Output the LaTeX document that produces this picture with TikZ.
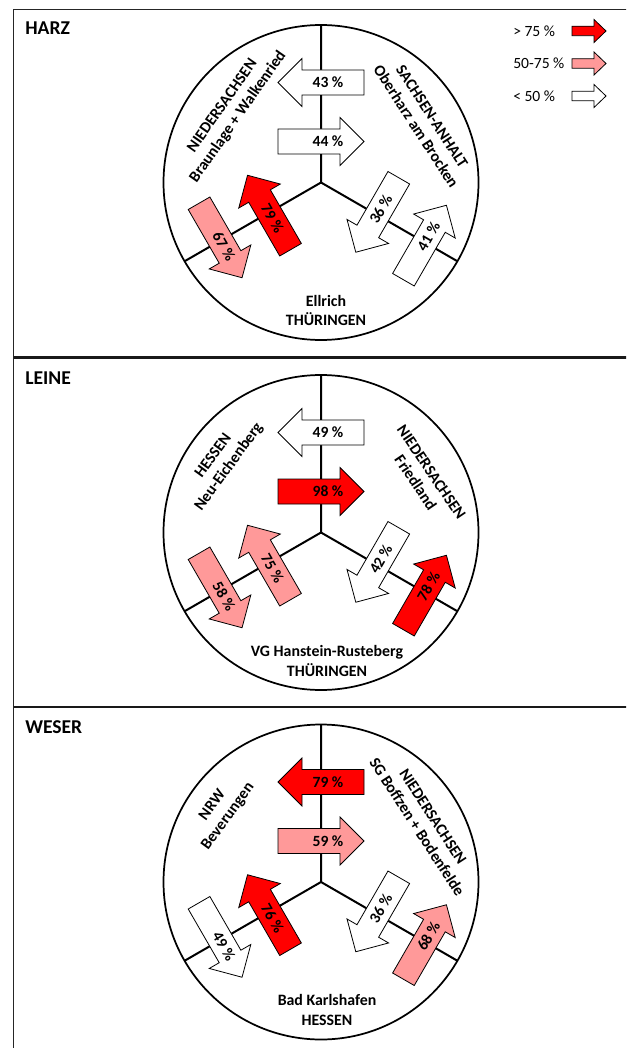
\documentclass[tikz,border=0pt]{standalone}
\usepackage{fontspec}
\setmainfont{Carlito}
\usetikzlibrary{calc}

\definecolor{highflow}{HTML}{FF0000}
\definecolor{midflow}{HTML}{FF9999}
\definecolor{lowflow}{HTML}{FFFFFF}

% block arrow: name, centre, polar offset, direction, fill, text, text angle
\newcommand{\flowarrow}[7]{%
    \path (#2) ++(#3) coordinate (#1-mid);
    \begin{scope}[shift={(#1-mid)}, rotate=#4]
        \draw[flowline, fill=#5] (-43,-12.5) -- (19,-12.5) -- (19,-24) -- (43,0)
            -- (19,24) -- (19,12.5) -- (-43,12.5) -- cycle;
    \end{scope}
    \node[pct, rotate=#7] (#1) at ([shift={(#7:7)}]#1-mid) {#6};
}

\begin{document}
\begin{tikzpicture}[
    x=0.75pt, y=0.75pt,
    frame/.style={draw=black!85, line width=1.1pt},
    seam/.style={black!90, line width=2pt},
    ring/.style={black, line width=1.3pt},
    divider/.style={black, line width=1.5pt},
    flowline/.style={black, line width=0.6pt, line join=miter},
    pct/.style={font=\fontsize{11.7}{14}\selectfont\bfseries, inner sep=0pt},
    region/.style={font=\fontsize{11.9}{14.3}\selectfont\bfseries, align=center, inner sep=0pt},
    title/.style={font=\fontsize{14.7}{17}\selectfont\bfseries, anchor=west, inner sep=0pt},
    key/.style={font=\fontsize{11.7}{14}\selectfont, anchor=west, inner sep=0pt}
]
    \useasboundingbox (0,0) rectangle (626,-1048);
    \clip (0,0) rectangle (626,-1048);

    % 1. Rahmen der drei Felder
    \draw[frame] (13.5,-9.5) rectangle (640,-1060);
    \draw[seam] (13.5,-357.5) -- (640,-357.5);
    \draw[seam] (13.5,-707) -- (640,-707);

    \coordinate (harz) at (321,-182.5);
    \coordinate (leine) at (321,-532.5);
    \coordinate (weser) at (321,-882);

    % 2. Kreis mit Y-Teilung
    \foreach \c in {harz,leine,weser} {
        \draw[divider] (\c) -- ++(90:157) (\c) -- ++(210:157) (\c) -- ++(330:157);
        \draw[ring] (\c) circle (157.5);
    }

    % 3. Titel
    \node[title] (harz-title) at (25,-28.3) {HARZ};
    \node[title] (leine-title) at (25,-378.3) {LEINE};
    \node[title] (weser-title) at (25,-726.7) {WESER};

    % 4. Legende
    \foreach \yy/\fl/\txt [count=\i] in {31/highflow/{> 75 \%}, 63.5/midflow/{50-75 \%}, 96/lowflow/{< 50 \%}} {
        \node[key] (key-\i) at (513,-\yy) {\txt};
        \begin{scope}[shift={(589,-\yy)}]
            \draw[flowline, fill=\fl] (-17,-4.75) -- (5,-4.75) -- (5,-11.5) -- (17,0)
                -- (5,11.5) -- (5,4.75) -- (-17,4.75) -- cycle;
        \end{scope}
    }

    % 5. Pfeile HARZ
    \flowarrow{harz-a}{harz}{90:100}{180}{lowflow}{43 \%}{0}
    \flowarrow{harz-b}{harz}{90:41}{0}{lowflow}{44 \%}{0}
    \flowarrow{harz-c}{harz}{210:60}{120}{highflow}{79 \%}{-60}
    \flowarrow{harz-d}{harz}{210:116}{300}{midflow}{67 \%}{-60}
    \flowarrow{harz-e}{harz}{330:65}{240}{lowflow}{36 \%}{60}
    \flowarrow{harz-f}{harz}{330:120}{60}{lowflow}{41 \%}{60}

    % Pfeile LEINE
    \flowarrow{leine-a}{leine}{90:100}{180}{lowflow}{49 \%}{0}
    \flowarrow{leine-b}{leine}{90:41}{0}{highflow}{98 \%}{0}
    \flowarrow{leine-c}{leine}{210:60}{120}{midflow}{75 \%}{-60}
    \flowarrow{leine-d}{leine}{210:116}{300}{midflow}{58 \%}{-60}
    \flowarrow{leine-e}{leine}{330:65}{240}{lowflow}{42 \%}{60}
    \flowarrow{leine-f}{leine}{330:120}{60}{highflow}{78 \%}{60}

    % Pfeile WESER
    \flowarrow{weser-a}{weser}{90:100}{180}{highflow}{79 \%}{0}
    \flowarrow{weser-b}{weser}{90:41}{0}{midflow}{59 \%}{0}
    \flowarrow{weser-c}{weser}{210:60}{120}{highflow}{76 \%}{-60}
    \flowarrow{weser-d}{weser}{210:116}{300}{lowflow}{49 \%}{-60}
    \flowarrow{weser-e}{weser}{330:65}{240}{lowflow}{36 \%}{60}
    \flowarrow{weser-f}{weser}{330:120}{60}{midflow}{68 \%}{60}

    % 6. Gebietsnamen
    \node[region, rotate=55] (harz-west) at ($(harz)+(-90.5,71)$) {NIEDERSACHSEN\\Braunlage + Walkenried};
    \node[region, rotate=-57] (harz-east) at ($(harz)+(103,61)$) {SACHSEN-ANHALT\\Oberharz am Brocken};
    \node[region] (harz-south) at ($(harz)+(5,-128)$) {Ellrich\\THÜRINGEN};

    \node[region, rotate=54] (leine-west) at ($(leine)+(-99.5,71)$) {HESSEN\\Neu-Eichenberg};
    \node[region, rotate=-56] (leine-east) at ($(leine)+(102.5,55)$) {NIEDERSACHSEN\\Friedland};
    \node[region] (leine-south) at ($(leine)+(6,-128.5)$) {VG Hanstein-Rusteberg\\THÜRINGEN};

    \node[region, rotate=54] (weser-west) at ($(weser)+(-100.5,71)$) {NRW\\Beverungen};
    \node[region, rotate=-57] (weser-east) at ($(weser)+(104,60)$) {NIEDERSACHSEN\\SG Boffzen + Bodenfelde};
    \node[region] (weser-south) at ($(weser)+(6,-128)$) {Bad Karlshafen\\HESSEN};
\end{tikzpicture}
\end{document}
